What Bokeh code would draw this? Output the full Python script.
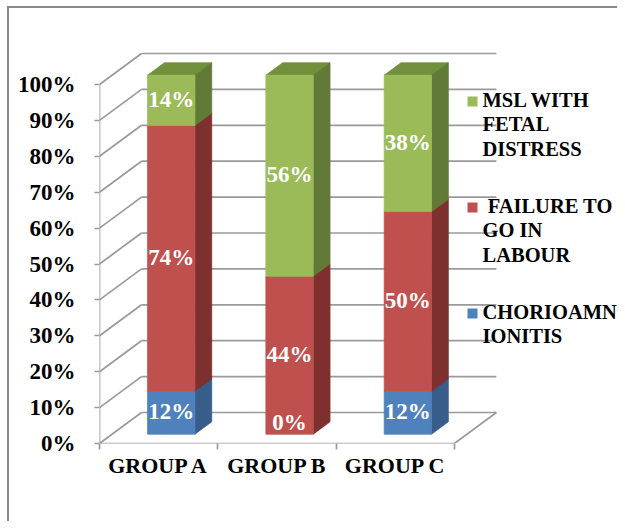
from bokeh.plotting import figure
from bokeh.models import Range1d, FixedTicker
from bokeh.core.properties import value
from bokeh.embed import file_html
from bokeh.resources import INLINE

# ---------------- data ----------------
categories = ["GROUP A", "GROUP B", "GROUP C"]
chorioamnionitis = [12, 0, 12]
failure_to_labour = [74, 44, 50]
msl_fetal_distress = [14, 56, 38]
series_values = [chorioamnionitis, failure_to_labour, msl_fetal_distress]
legend_labels = ["MSL WITH\nFETAL\nDISTRESS", " FAILURE TO\nGO IN\nLABOUR", "CHORIOAMN\nIONITIS"]
y_ticks = [0, 10, 20, 30, 40, 50, 60, 70, 80, 90, 100]
y_tick_labels = ["0%", "10%", "20%", "30%", "40%", "50%", "60%", "70%", "80%", "90%", "100%"]

# ---------------- style ----------------
front_colors = ["#4F81BD", "#C0504D", "#9BBB59"]
side_colors = ["#385D8A", "#7D302E", "#627A37"]
top_colors = ["#4A70A2", "#A0403D", "#71903C"]
grid_color = "#9A9A9A"
frame_color = "#8a8a8a"
FONT = "Liberation Serif"

W, H = 617, 521
PX_CAT = 118.3                 # px per category unit
PX_PCT = 3.59                  # px per percent
X0_PX, Y0_PX = 99, 443         # canvas position of (0, 0) on the front plane
DX = 42 / PX_CAT               # depth offset, category units
DY = 31 / PX_PCT               # depth offset, percent units
D0, D1 = 0.3, 0.7              # bar depth span
BAR_W = 0.4

min_left = X0_PX
min_bottom = H - Y0_PX
x_end = (W - min_left) / PX_CAT
y_end = Y0_PX / PX_PCT


def P(x, y, d):
    return x + d * DX, y + d * DY


def px_to_data(px, py):
    return (px - X0_PX) / PX_CAT, (Y0_PX - py) / PX_PCT


p = figure(width=W, height=H, output_backend="svg", toolbar_location=None,
           x_range=Range1d(0, x_end), y_range=Range1d(0, y_end),
           min_border_left=min_left, min_border_bottom=min_bottom,
           min_border_top=0, min_border_right=0, title=None)
p.grid.visible = False
p.outline_line_color = None
p.background_fill_color = None
p.border_fill_color = None
# outer chart-area frame: only its top and left edges fall inside the picture
p.styles = {
    "background-color": "white",
    "background-image": f"linear-gradient({frame_color}, {frame_color}), "
                        f"linear-gradient({frame_color}, {frame_color})",
    "background-size": "100% 2px, 2px 100%",
    "background-position": "7px 6px, 7px 6px",
    "background-repeat": "no-repeat",
}

ncat = len(categories)

# ---------------- walls / grid ----------------
gx0, gy0, gx1, gy1 = [], [], [], []
for t in y_ticks:
    a = P(0, t, 0); b = P(0, t, 1); c = P(ncat, t, 1)
    gx0 += [a[0], b[0]]; gy0 += [a[1], b[1]]
    gx1 += [b[0], c[0]]; gy1 += [b[1], c[1]]
f0 = P(0, 0, 0); f1 = P(ncat, 0, 0); f2 = P(ncat, 0, 1); ftop = P(0, y_ticks[-1], 0)
gx0 += [f0[0], f1[0], f0[0]]; gy0 += [f0[1], f1[1], f0[1]]
gx1 += [f1[0], f2[0], ftop[0]]; gy1 += [f1[1], f2[1], ftop[1]]
p.segment(gx0, gy0, gx1, gy1, line_color=grid_color, line_width=1.7)

# ---------------- bars ----------------
bottoms = [0] * ncat
label_x, label_y, label_t = [], [], []
for k, vals in enumerate(series_values):
    fx, fy, sx, sy, tx, ty = [], [], [], [], [], []
    for i, v in enumerate(vals):
        b = bottoms[i]; t = b + v
        x0 = i + 0.5 - BAR_W / 2; x1 = i + 0.5 + BAR_W / 2
        if v > 0:
            pts = [P(x0, b, D0), P(x1, b, D0), P(x1, t, D0), P(x0, t, D0)]
            fx.append([q[0] for q in pts]); fy.append([q[1] for q in pts])
            pts = [P(x1, b, D0), P(x1, b, D1), P(x1, t, D1), P(x1, t, D0)]
            sx.append([q[0] for q in pts]); sy.append([q[1] for q in pts])
            pts = [P(x0, t, D0), P(x1, t, D0), P(x1, t, D1), P(x0, t, D1)]
            tx.append([q[0] for q in pts]); ty.append([q[1] for q in pts])
        lx, ly = P(i + 0.5, max(b + v / 2, 3.0), D0)
        label_x.append(lx); label_y.append(ly); label_t.append(f"{v}%")
        bottoms[i] = t
    p.patches(tx, ty, fill_color=top_colors[k], line_color=top_colors[k], line_width=0.8)
    p.patches(sx, sy, fill_color=side_colors[k], line_color=side_colors[k], line_width=0.8)
    p.patches(fx, fy, fill_color=front_colors[k], line_color=front_colors[k], line_width=0.8)

p.text(label_x, label_y, text=label_t, text_color="white", text_font=value(FONT),
       text_font_style="bold", text_font_size="23px", text_align="center",
       text_baseline="middle", y_offset=-1)

# ---------------- axes ----------------
ya = p.yaxis[0]
ya.ticker = FixedTicker(ticks=y_ticks)
ya.major_label_overrides = {t: s for t, s in zip(y_ticks, y_tick_labels)}
ya.axis_line_color = None
ya.major_tick_out = 5
ya.major_tick_in = 0
ya.major_tick_line_color = grid_color
ya.major_tick_line_width = 1.7
ya.minor_tick_line_color = None
ya.major_label_standoff = 19
ya.major_label_text_font = FONT
ya.major_label_text_font_style = "bold"
ya.major_label_text_font_size = "23px"
ya.major_label_text_color = "black"

xa = p.xaxis[0]
centers = [i + 0.5 for i in range(ncat)]
xa.ticker = FixedTicker(ticks=centers, minor_ticks=list(range(ncat + 1)))
xa.major_label_overrides = {c: n for c, n in zip(centers, categories)}
xa.axis_line_color = None
xa.major_tick_line_color = None
xa.minor_tick_out = 6
xa.minor_tick_in = 0
xa.minor_tick_line_color = grid_color
xa.minor_tick_line_width = 1.7
xa.major_label_standoff = 3
xa.major_label_text_font = FONT
xa.major_label_text_font_style = "bold"
xa.major_label_text_font_size = "22px"
xa.major_label_text_color = "black"

# ---------------- legend ----------------
LEG_SQ_X, LEG_TXT_X = 472, 482
LEG_Y0, LEG_ENTRY_GAP, LEG_LINE_GAP = 101, 106, 24.5
legend_series = [2, 1, 0]
sqx, sqy, sqc, tx_, ty_, tt_ = [], [], [], [], [], []
for n, (lab, k) in enumerate(zip(legend_labels, legend_series)):
    py = LEG_Y0 + n * LEG_ENTRY_GAP
    x, y = px_to_data(LEG_SQ_X, py)
    sqx.append(x); sqy.append(y); sqc.append(front_colors[k])
    for j, line in enumerate(lab.split("\n")):
        x, y = px_to_data(LEG_TXT_X, py + j * LEG_LINE_GAP)
        tx_.append(x); ty_.append(y)
        tt_.append(line.replace(" ", "\u00a0", 1) if line.startswith(" ") else line)
p.scatter(sqx, sqy, marker="square", size=10, fill_color=sqc, line_color=None)
p.text(tx_, ty_, text=tt_, text_color="black", text_font=value(FONT),
       text_font_style="bold", text_font_size="20.5px", text_align="left",
       text_baseline="middle", y_offset=-2)

open("out.html", "w").write(file_html(p, INLINE))
